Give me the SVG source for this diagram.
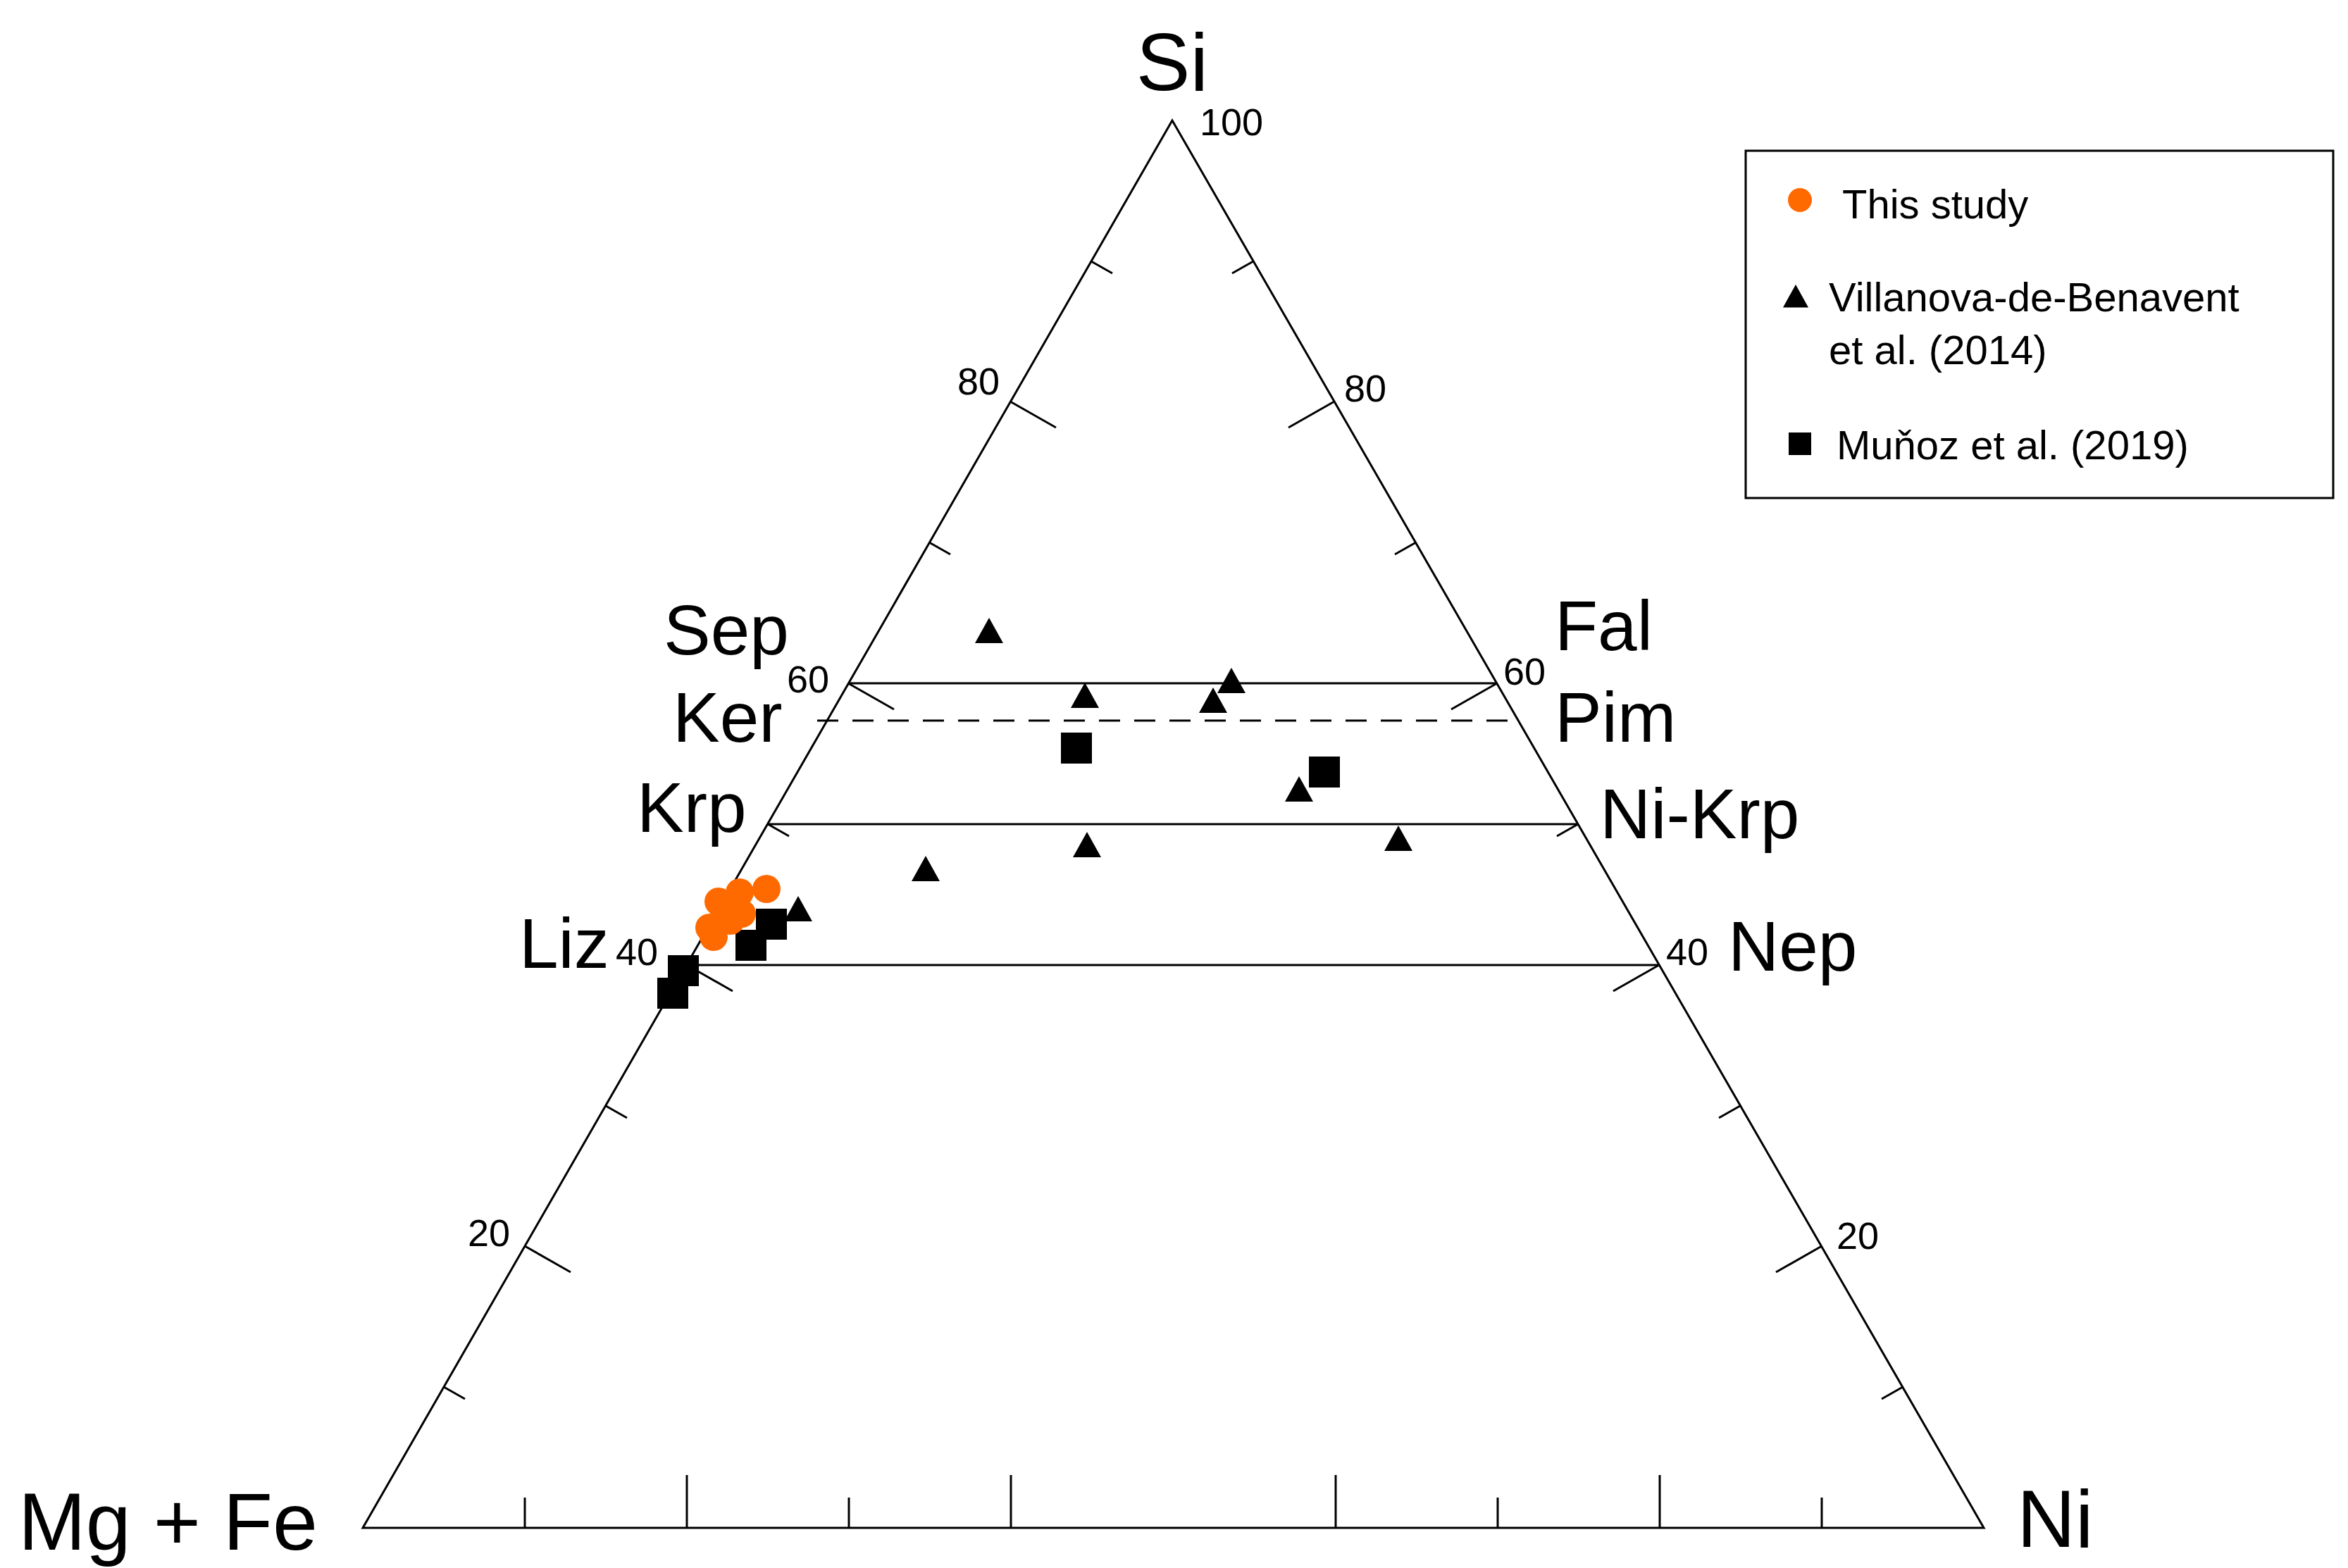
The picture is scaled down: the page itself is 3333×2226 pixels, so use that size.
<svg xmlns="http://www.w3.org/2000/svg" width="3333" height="2226" viewBox="0 0 3333 2226">
<style>
text{font-family:"Liberation Sans",Arial,sans-serif;fill:#000}
.ax{stroke:#000;stroke-width:3;fill:none}
.lb{font-size:100px}
.nm{font-size:54px}
.lg{font-size:58px}
.tri{fill:#000}
.sq{fill:#000}
.ci{fill:#FF6A00}
</style>
<defs>
<path id="t" d="M0,-20 L20,16 L-20,16 Z"/>
<rect id="s" x="-22" y="-22" width="44" height="44"/>
</defs>
<rect width="3333" height="2226" fill="#fff"/>
<g id="axes">
<path class="ax" d="M1664,171 L515,2169 L2816,2169 Z"/>
<path class="ax" d="M745,1769L810,1806M975,1370L1040,1407M1204,970L1269,1007M1434,570L1499,607M630,1969L660,1986M860,1570L890,1587M1090,1170L1120,1187M1319,770L1349,787M1549,371L1579,388"/>
<path class="ax" d="M2586,1769L2521,1806M2355,1370L2290,1407M2125,970L2060,1007M1894,570L1829,607M2701,1969L2671,1986M2470,1570L2440,1587M2240,1170L2210,1187M2010,770L1980,787M1779,371L1749,388"/>
<path class="ax" d="M745,2169V2126M975,2169V2094M1205,2169V2126M1435,2169V2094M1896,2169V2094M2126,2169V2126M2356,2169V2094M2586,2169V2126"/>
</g>
<g id="connectors">
<path class="ax" d="M1204,970H2125M1090,1170H2240M975,1370H2355"/>
<path class="ax" d="M1160,1023H2160" stroke-dasharray="30,20"/>
</g>
<g id="labels">
<text x="1664" y="128" font-size="115" text-anchor="middle">Si</text>
<text x="1703" y="192" class="nm">100</text>
<text x="1389" y="560" class="nm" text-anchor="middle">80</text>
<text x="1938" y="570" class="nm" text-anchor="middle">80</text>
<text x="942" y="929" class="lb">Sep</text>
<text x="1117" y="983" class="nm">60</text>
<text x="2207" y="923" class="lb">Fal</text>
<text x="2134" y="972" class="nm">60</text>
<text x="955" y="1053" class="lb">Ker</text>
<text x="2207" y="1053" class="lb">Pim</text>
<text x="904" y="1181" class="lb">Krp</text>
<text x="2271" y="1190" class="lb">Ni-Krp</text>
<text x="737" y="1374" class="lb">Liz</text>
<text x="874" y="1370" class="nm">40</text>
<text x="2365" y="1370" class="nm">40</text>
<text x="2453" y="1378" class="lb">Nep</text>
<text x="694" y="1769" class="nm" text-anchor="middle">20</text>
<text x="2607" y="1773" class="nm">20</text>
<text x="26" y="2200" font-size="115">Mg + Fe</text>
<text x="2863" y="2196" font-size="115">Ni</text>
</g>
<g id="legend">
<rect x="2478" y="214" width="834" height="493" fill="#fff" stroke="#000" stroke-width="3"/>
<circle cx="2555" cy="284" r="17" class="ci"/>
<text x="2615" y="310" class="lg">This study</text>
<use href="#t" x="2549" y="422" class="tri" transform="translate(2549,422) scale(0.9) translate(-2549,-422)"/>
<text x="2596" y="442" class="lg">Villanova-de-Benavent</text>
<text x="2596" y="517" class="lg">et al. (2014)</text>
<rect x="2539" y="614" width="32" height="32"/>
<text x="2607" y="652" class="lg">Muňoz et al. (2019)</text>
</g>
<g id="data">
<use href="#t" x="1404" y="897"/>
<use href="#t" x="1540" y="989"/>
<use href="#t" x="1722" y="996"/>
<use href="#t" x="1748" y="968"/>
<use href="#t" x="1844" y="1122"/>
<use href="#t" x="1543" y="1201"/>
<use href="#t" x="1314" y="1235"/>
<use href="#t" x="1985" y="1192"/>
<use href="#t" x="1133" y="1292"/>
<use href="#s" x="1528" y="1062"/>
<use href="#s" x="1880" y="1096"/>
<use href="#s" x="970" y="1378"/>
<use href="#s" x="955" y="1410"/>
<use href="#s" x="1066" y="1342"/>
<use href="#s" x="1095" y="1312"/>
<circle class="ci" cx="1088" cy="1262" r="20"/>
<circle class="ci" cx="1050" cy="1267" r="20"/>
<circle class="ci" cx="1020" cy="1280" r="20"/>
<circle class="ci" cx="1027" cy="1290" r="20"/>
<circle class="ci" cx="1053" cy="1297" r="20"/>
<circle class="ci" cx="1037" cy="1307" r="20"/>
<circle class="ci" cx="1007" cy="1317" r="20"/>
<circle class="ci" cx="1013" cy="1330" r="20"/>
</g>
</svg>
